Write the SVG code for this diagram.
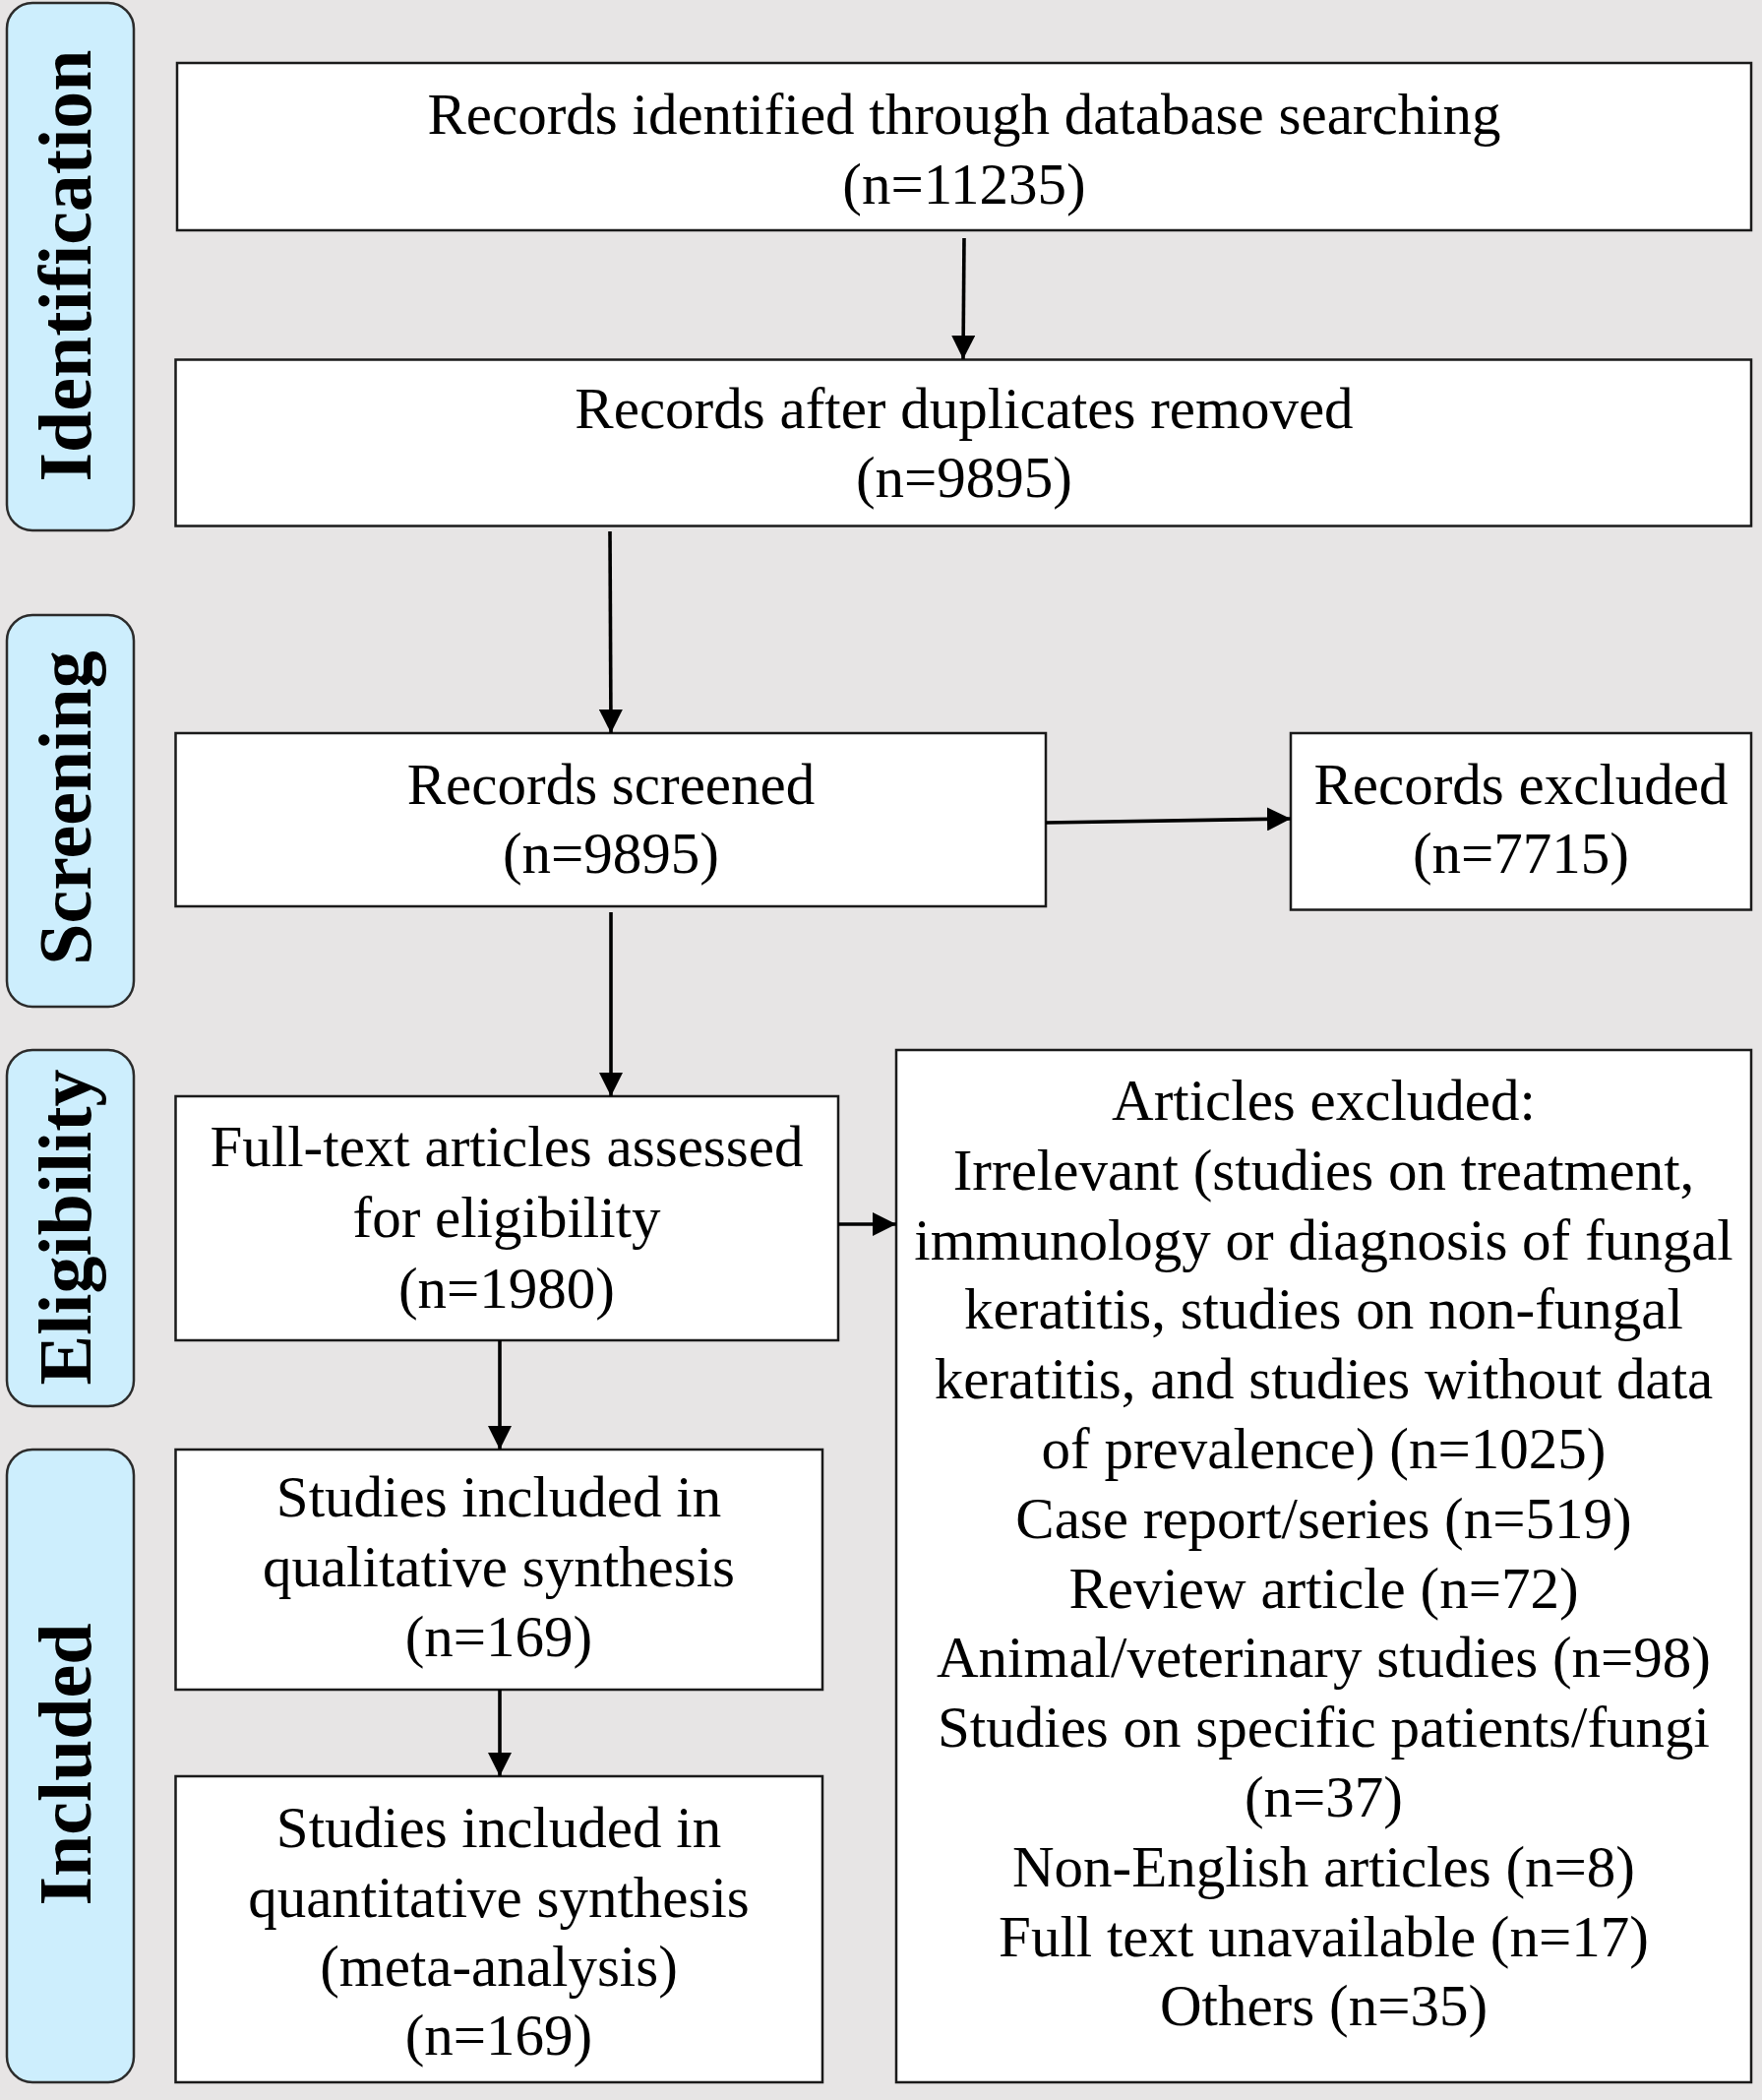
<svg xmlns="http://www.w3.org/2000/svg" width="1791" height="2134" viewBox="0 0 1791 2134">
<style>
.bg{fill:#e7e5e5}
.pill{fill:#cdeefd;stroke:#2b2b2b;stroke-width:2.5}
.box{fill:#ffffff;stroke:#1a1a1a;stroke-width:2.5}
.t{font-family:"Liberation Serif","Times New Roman",serif;font-size:59px;fill:#000;text-anchor:middle}
.ph{font-family:"Liberation Serif","Times New Roman",serif;font-size:76px;font-weight:bold;fill:#000;text-anchor:middle}
.c{stroke:#000;stroke-width:3.6;fill:none;marker-end:url(#ah)}
</style>
<defs>
<marker id="ah" viewBox="0 0 24 24" refX="24" refY="12" markerWidth="24" markerHeight="24" markerUnits="userSpaceOnUse" orient="auto">
<path d="M0,0 L24,12 L0,24 z" fill="#000"/>
</marker>
</defs>
<rect class="bg" x="0" y="0" width="1791" height="2134"/>

<g id="phase-identification">
<rect class="pill" x="7" y="3" width="129" height="536" rx="26"/>
<text class="ph" transform="translate(92,270) rotate(-90)">Identification</text>
</g>
<g id="phase-screening">
<rect class="pill" x="7" y="625" width="129" height="398" rx="26"/>
<text class="ph" transform="translate(92,821) rotate(-90)">Screening</text>
</g>
<g id="phase-eligibility">
<rect class="pill" x="7" y="1067" width="129" height="362" rx="26"/>
<text class="ph" transform="translate(92,1247) rotate(-90)">Eligibility</text>
</g>
<g id="phase-included">
<rect class="pill" x="7" y="1473" width="129" height="643" rx="26"/>
<text class="ph" transform="translate(92,1793) rotate(-90)">Included</text>
</g>

<g id="n-identified">
<rect class="box" x="180" y="64" width="1600" height="170"/>
<text class="t" x="980" y="136">Records identified through database searching</text>
<text class="t" x="980" y="207">(n=11235)</text>
</g>
<g id="n-duplicates">
<rect class="box" x="178.5" y="365.5" width="1601.5" height="169"/>
<text class="t" x="980" y="435">Records after duplicates removed</text>
<text class="t" x="980" y="505">(n=9895)</text>
</g>
<g id="n-screened">
<rect class="box" x="178.5" y="745" width="884.5" height="176"/>
<text class="t" x="621" y="817">Records screened</text>
<text class="t" x="621" y="887">(n=9895)</text>
</g>
<g id="n-records-excluded">
<rect class="box" x="1312" y="745" width="468" height="179.5"/>
<text class="t" x="1546" y="817">Records excluded</text>
<text class="t" x="1546" y="887">(n=7715)</text>
</g>
<g id="n-fulltext">
<rect class="box" x="178.5" y="1114" width="673.5" height="248"/>
<text class="t" x="515" y="1185">Full-text articles assessed</text>
<text class="t" x="515" y="1257">for eligibility</text>
<text class="t" x="515" y="1329">(n=1980)</text>
</g>
<g id="n-articles-excluded">
<rect class="box" x="911" y="1067" width="869" height="1049"/>
<text class="t" x="1345.5" y="1138">Articles excluded:</text>
<text class="t" x="1345.5" y="1208.8">Irrelevant (studies on treatment,</text>
<text class="t" x="1345.5" y="1279.6">immunology or diagnosis of fungal</text>
<text class="t" x="1345.5" y="1350.4">keratitis, studies on non-fungal</text>
<text class="t" x="1345.5" y="1421.2">keratitis, and studies without data</text>
<text class="t" x="1345.5" y="1492">of prevalence) (n=1025)</text>
<text class="t" x="1345.5" y="1562.8">Case report/series (n=519)</text>
<text class="t" x="1345.5" y="1633.6">Review article (n=72)</text>
<text class="t" x="1345.5" y="1704.4">Animal/veterinary studies (n=98)</text>
<text class="t" x="1345.5" y="1775.2">Studies on specific patients/fungi</text>
<text class="t" x="1345.5" y="1846">(n=37)</text>
<text class="t" x="1345.5" y="1916.8">Non-English articles (n=8)</text>
<text class="t" x="1345.5" y="1987.6">Full text unavailable (n=17)</text>
<text class="t" x="1345.5" y="2058.4">Others (n=35)</text>
</g>
<g id="n-qualitative">
<rect class="box" x="178.5" y="1473" width="657.5" height="244"/>
<text class="t" x="507" y="1541">Studies included in</text>
<text class="t" x="507" y="1612">qualitative synthesis</text>
<text class="t" x="507" y="1683">(n=169)</text>
</g>
<g id="n-quantitative">
<rect class="box" x="178.5" y="1805" width="657.5" height="311"/>
<text class="t" x="507" y="1877">Studies included in</text>
<text class="t" x="507" y="1948">quantitative synthesis</text>
<text class="t" x="507" y="2018">(meta-analysis)</text>
<text class="t" x="507" y="2088">(n=169)</text>
</g>

<g id="connectors">
<line class="c" x1="980" y1="242" x2="979" y2="365"/>
<line class="c" x1="620" y1="540" x2="621" y2="745"/>
<line class="c" x1="621" y1="927" x2="621" y2="1114"/>
<line class="c" x1="1063" y1="836" x2="1312" y2="832"/>
<line class="c" x1="852" y1="1244" x2="911" y2="1244"/>
<line class="c" x1="508" y1="1362" x2="508" y2="1473"/>
<line class="c" x1="508" y1="1717" x2="508" y2="1805"/>
</g>
</svg>
